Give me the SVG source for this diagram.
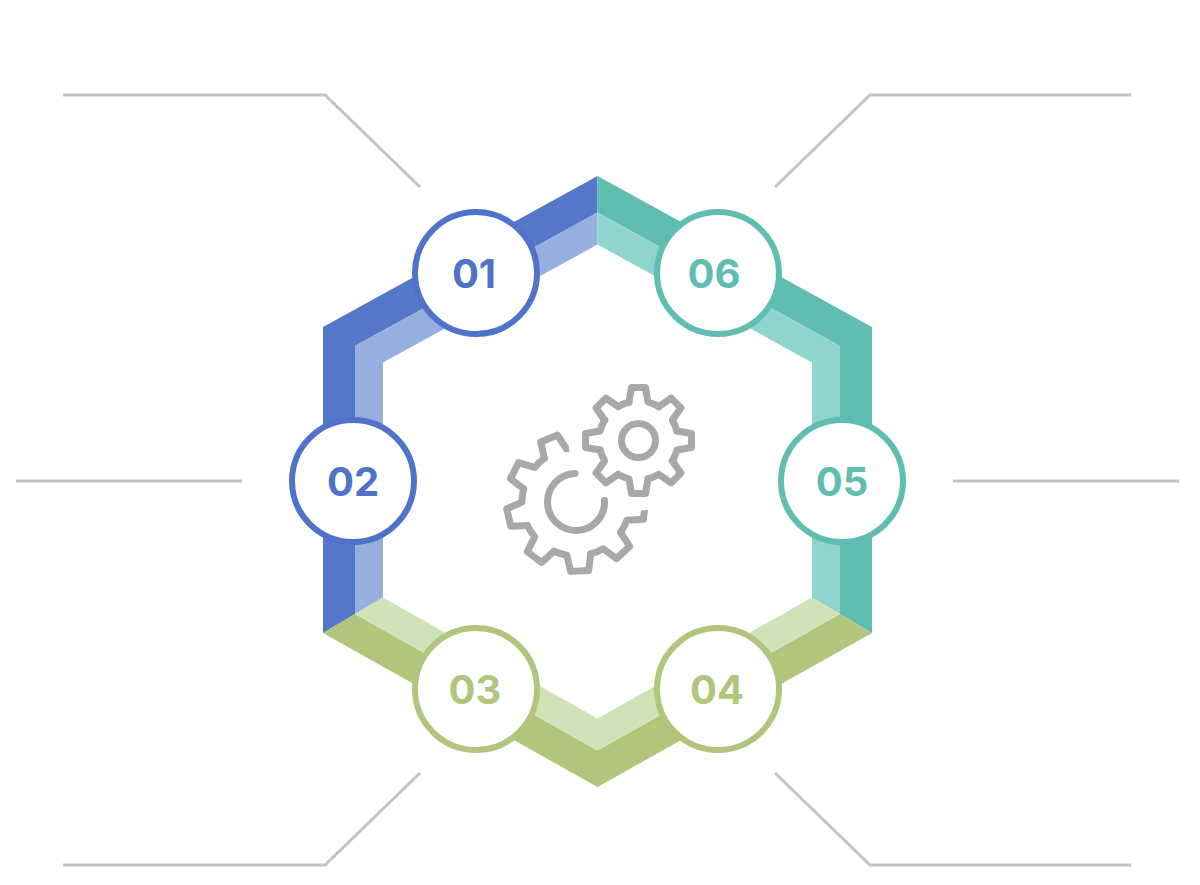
<svg xmlns="http://www.w3.org/2000/svg" xmlns:xlink="http://www.w3.org/1999/xlink" width="1200" height="885" viewBox="0 0 1200 885">
<style>
.lead{fill:none;stroke:#C4C4C4;stroke-width:3;stroke-linejoin:miter}
.num{font-family:Inter,"Noto Sans","Liberation Sans",sans-serif;font-weight:700;font-size:40px;text-anchor:middle}
.node circle{fill:#FFFFFF;stroke-width:6}
.blue circle{stroke:#5072C8}.blue text{fill:#5072C8}
.teal circle{stroke:#5FBDB2}.teal text{fill:#5FBDB2}
.green circle{stroke:#B2C57C}.green text{fill:#B2C57C}
.gs{fill:none;stroke:#A8A8A8;stroke-width:7;stroke-linecap:round;stroke-linejoin:round}
</style>
<defs>
<path id="lt" class="gs" d="M-12,-52.65 L-9,-69 L9,-69 L12,-52.65 A54,54 0 0 1 24.65,-48.05"/>
<path id="st" class="gs" d="M-9.5,-38.34 L-7,-53 L7,-53 L9.5,-38.34 A39.5,39.5 0 0 1 20.39,-33.83"/>
<mask id="cut" maskUnits="userSpaceOnUse" x="0" y="0" width="1200" height="885">
<rect x="0" y="0" width="1200" height="885" fill="#FFFFFF"/>
<circle cx="638.5" cy="440.5" r="70" fill="#000000"/>
</mask>
</defs>
<rect x="0" y="0" width="1200" height="885" fill="#FFFFFF"/>

<g id="ring">
<polygon fill="#5577C9" points="597.5,176 323,327 323,633 355,614 355,346 597.5,212.5"/>
<polygon fill="#98AEDF" points="597.5,212.5 355,346 355,614 383,597.5 383,362.5 597.5,244.5"/>
<polygon fill="#5FBDB2" points="597.5,176 872,327 872,633 840,614 840,346 597.5,212.5"/>
<polygon fill="#8FD4CD" points="597.5,212.5 840,346 840,614 812,597.5 812,362.5 597.5,244.5"/>
<polygon fill="#B2C57C" points="323,633 597.5,787 872,633 840,614 597.5,750.5 355,614"/>
<polygon fill="#CFE3B9" points="355,614 597.5,750.5 840,614 812,597.5 597.5,718.5 383,597.5"/>
</g>

<g id="connectors">
<polyline class="lead" points="63,95 325,95 420,187"/>
<polyline class="lead" points="1131,95 870,95 775,187"/>
<line class="lead" x1="16" y1="481" x2="242" y2="481"/>
<line class="lead" x1="953" y1="481" x2="1179" y2="481"/>
<polyline class="lead" points="63,865 325,865 420,773"/>
<polyline class="lead" points="1131,865 870,865 775,773"/>
</g>

<g id="gears">
<g id="gear-large">
<g mask="url(#cut)">
<g transform="translate(576,502)">
<use xlink:href="#lt" transform="rotate(-23)"/>
<use xlink:href="#lt" transform="rotate(17)"/>
<use xlink:href="#lt" transform="rotate(57)"/>
<use xlink:href="#lt" transform="rotate(97)"/>
<use xlink:href="#lt" transform="rotate(137)"/>
<use xlink:href="#lt" transform="rotate(177)"/>
<use xlink:href="#lt" transform="rotate(217)"/>
<use xlink:href="#lt" transform="rotate(257)"/>
<use xlink:href="#lt" transform="rotate(297)"/>
</g>
</g>
<path d="M575,473.5 A28.5,28.5 0 1 0 604.5,500.5" fill="none" stroke="#A8A8A8" stroke-width="7" stroke-linecap="round"/>
</g>
<g id="gear-small" transform="translate(638.5,440.5)">
<use xlink:href="#st"/>
<use xlink:href="#st" transform="rotate(45)"/>
<use xlink:href="#st" transform="rotate(90)"/>
<use xlink:href="#st" transform="rotate(135)"/>
<use xlink:href="#st" transform="rotate(180)"/>
<use xlink:href="#st" transform="rotate(225)"/>
<use xlink:href="#st" transform="rotate(270)"/>
<use xlink:href="#st" transform="rotate(315)"/>
<circle r="17" fill="none" stroke="#A8A8A8" stroke-width="7"/>
</g>
</g>

<g id="node-01" class="node blue"><circle cx="476" cy="273" r="61"/><text class="num" x="474" y="288">01</text></g>
<g id="node-02" class="node blue"><circle cx="353" cy="481" r="61"/><text class="num" x="353" y="496">02</text></g>
<g id="node-03" class="node green"><circle cx="476" cy="689" r="61"/><text class="num" x="475" y="704">03</text></g>
<g id="node-04" class="node green"><circle cx="718" cy="689" r="61"/><text class="num" x="717" y="704">04</text></g>
<g id="node-05" class="node teal"><circle cx="842" cy="481" r="61"/><text class="num" x="842" y="496">05</text></g>
<g id="node-06" class="node teal"><circle cx="718" cy="273" r="61"/><text class="num" x="714" y="288">06</text></g>
</svg>
